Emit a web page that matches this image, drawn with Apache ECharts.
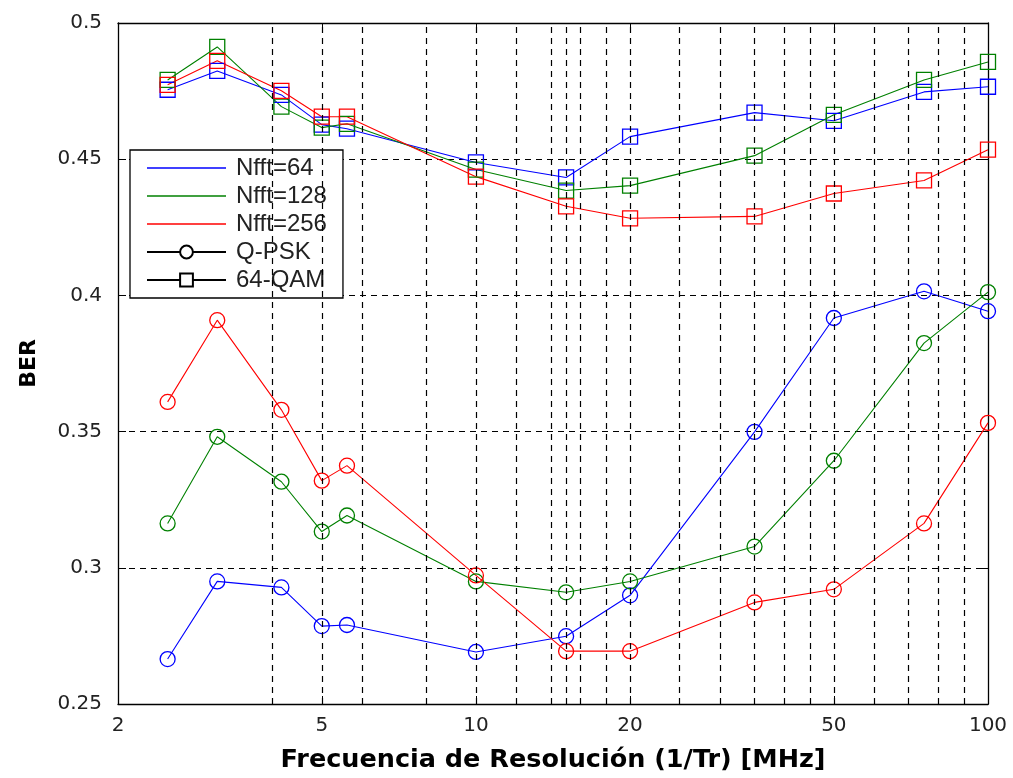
<!DOCTYPE html>
<html>
<head>
<meta charset="utf-8">
<script src="https://cdn.jsdelivr.net/npm/echarts@6/dist/echarts.min.js"></script>
<style>
  html, body { margin: 0; padding: 0; background: #fff; }
  #chart { width: 1013px; height: 778px; }
</style>
</head>
<body>
<div id="chart"></div>
<script>
// frequencies (MHz) where the curves were sampled
const freqs = [2.5, 3.125, 4.17, 5, 5.6, 10, 15, 20, 35, 50, 75, 100];

// Q-PSK curves
const qpsk64 = [0.2665, 0.2950, 0.2928, 0.2786, 0.2790, 0.2691, 0.2749, 0.2899, 0.3499, 0.3917, 0.4015, 0.3942];
const qpsk128 = [0.3163, 0.3481, 0.3316, 0.3133, 0.3192, 0.2950, 0.2910, 0.2950, 0.3078, 0.3393, 0.3825, 0.4012];
const qpsk256 = [0.3609, 0.3909, 0.3580, 0.3320, 0.3375, 0.2972, 0.2694, 0.2694, 0.2873, 0.2921, 0.3163, 0.3532];

// 64-QAM curves
const qam64 = [0.4755, 0.4824, 0.4736, 0.4627, 0.4612, 0.4488, 0.4433, 0.4583, 0.4671, 0.4641, 0.4747, 0.4766];
const qam128 = [0.4791, 0.4912, 0.4693, 0.4616, 0.4630, 0.4462, 0.4385, 0.4403, 0.4513, 0.4663, 0.4791, 0.4857];
const qam256 = [0.4773, 0.4861, 0.4751, 0.4656, 0.4656, 0.4436, 0.4327, 0.4283, 0.4290, 0.4374, 0.4422, 0.4535];

// axis ticks
const xTickLabels = [2, 5, 10, 20, 50, 100];
const xGridLines = [4, 5, 6, 8, 10, 12, 14, 15, 16, 18, 20, 25, 30, 35, 40, 45, 50, 60, 70, 80, 90];

const legendNames = ['Nfft=64', 'Nfft=128', 'Nfft=256', 'Q-PSK', '64-QAM'];

const BLUE = '#0000ff';
const GREEN = '#008000';
const RED = '#ff0000';

const chart = echarts.init(document.getElementById('chart'));

const toPairs = (ys) => freqs.map((x, i) => [x, ys[i]]);

const dataSeries = (name, ys, color, symbol) => ({
  name: name,
  type: 'line',
  z: 3,
  data: toPairs(ys),
  symbol: symbol,
  symbolSize: 15,
  showAllSymbol: true,
  lineStyle: { color: color, width: 1.1 },
  itemStyle: { color: 'rgba(0,0,0,0)', borderColor: color, borderWidth: 1.3 },
  emphasis: { disabled: true },
  animation: false
});

// empty series that only feed the legend
const legendSeries = (name, color, symbol) => ({
  name: name,
  type: 'line',
  data: [],
  symbol: symbol,
  color: color,
  lineStyle: { color: color, width: 1 },
  itemStyle: { color: color }
});

const tickFont = { fontFamily: 'DejaVu Sans', fontSize: 20, color: '#222' };
const lineIcon = 'path://M0,0 L79,0 L79,1.3 L0,1.3 Z';

const option = {
  animation: false,
  backgroundColor: '#fff',
  grid: { left: 118, right: 25, top: 23, bottom: 72 },
  legend: {
    orient: 'vertical',
    left: 130,
    top: 150,
    padding: [4, 16, 4, 16],
    itemGap: 0,
    itemWidth: 79,
    itemHeight: 16,
    backgroundColor: '#fff',
    borderColor: '#000',
    borderWidth: 1.3,
    selectedMode: false,
    textStyle: {
      fontFamily: 'Liberation Sans',
      fontSize: 24,
      color: '#222',
      lineHeight: 28,
      padding: [0, 0, 0, 5]
    },
    data: [
      { name: legendNames[0], icon: lineIcon },
      { name: legendNames[1], icon: lineIcon },
      { name: legendNames[2], icon: lineIcon },
      { name: legendNames[3] },
      { name: legendNames[4] }
    ]
  },
  xAxis: [
    {
      type: 'log',
      min: 2,
      max: 100,
      name: 'Frecuencia de Resolución (1/Tr) [MHz]',
      nameLocation: 'middle',
      nameGap: 43,
      nameTextStyle: { fontFamily: 'DejaVu Sans', fontWeight: 'bold', fontSize: 25.5, color: '#000' },
      axisLine: { show: true, lineStyle: { color: '#000', width: 1.3 } },
      axisTick: { show: true, inside: true, length: 8, customValues: xTickLabels, lineStyle: { color: '#000' } },
      axisLabel: { show: true, margin: 12, customValues: xTickLabels, ...tickFont },
      splitLine: { show: false },
      minorTick: { show: false },
      minorSplitLine: { show: false }
    },
    {
      type: 'log',
      position: 'top',
      min: 2,
      max: 100,
      axisLine: { show: true, lineStyle: { color: '#000', width: 1.3 } },
      axisTick: { show: true, inside: true, length: 8, customValues: xTickLabels, lineStyle: { color: '#000' } },
      axisLabel: { show: false },
      splitLine: { show: false }
    }
  ],
  yAxis: [
    {
      type: 'value',
      min: 0.25,
      max: 0.5,
      interval: 0.05,
      name: 'BER',
      nameLocation: 'middle',
      nameGap: 78,
      nameTextStyle: { fontFamily: 'DejaVu Sans', fontWeight: 'bold', fontSize: 22, color: '#000' },
      axisLine: { show: true, lineStyle: { color: '#000', width: 1.3 } },
      axisTick: { show: true, inside: true, length: 8, lineStyle: { color: '#000' } },
      axisLabel: { margin: 16, ...tickFont },
      splitLine: { show: true, lineStyle: { color: '#000', width: 1.2, type: [6, 5] } }
    },
    {
      type: 'value',
      position: 'right',
      min: 0.25,
      max: 0.5,
      interval: 0.05,
      axisLine: { show: true, lineStyle: { color: '#000', width: 1.3 } },
      axisTick: { show: true, inside: true, length: 8, lineStyle: { color: '#000' } },
      axisLabel: { show: false },
      splitLine: { show: false }
    }
  ],
  series: [
    {
      name: 'grid',
      type: 'line',
      z: 1,
      data: [],
      markLine: {
        silent: true,
        symbol: 'none',
        animation: false,
        label: { show: false },
        lineStyle: { color: '#000', width: 1.2, type: [6, 5] },
        data: xGridLines.map((v) => ({ xAxis: v }))
      }
    },
    dataSeries('Nfft=64 Q-PSK', qpsk64, BLUE, 'circle'),
    dataSeries('Nfft=128 Q-PSK', qpsk128, GREEN, 'circle'),
    dataSeries('Nfft=256 Q-PSK', qpsk256, RED, 'circle'),
    dataSeries('Nfft=64 64-QAM', qam64, BLUE, 'rect'),
    dataSeries('Nfft=128 64-QAM', qam128, GREEN, 'rect'),
    dataSeries('Nfft=256 64-QAM', qam256, RED, 'rect'),
    legendSeries(legendNames[0], BLUE, 'none'),
    legendSeries(legendNames[1], GREEN, 'none'),
    legendSeries(legendNames[2], RED, 'none'),
    legendSeries(legendNames[3], '#000', 'emptyCircle'),
    legendSeries(legendNames[4], '#000', 'emptyRect')
  ]
};

chart.setOption(option);
</script>
</body>
</html>
